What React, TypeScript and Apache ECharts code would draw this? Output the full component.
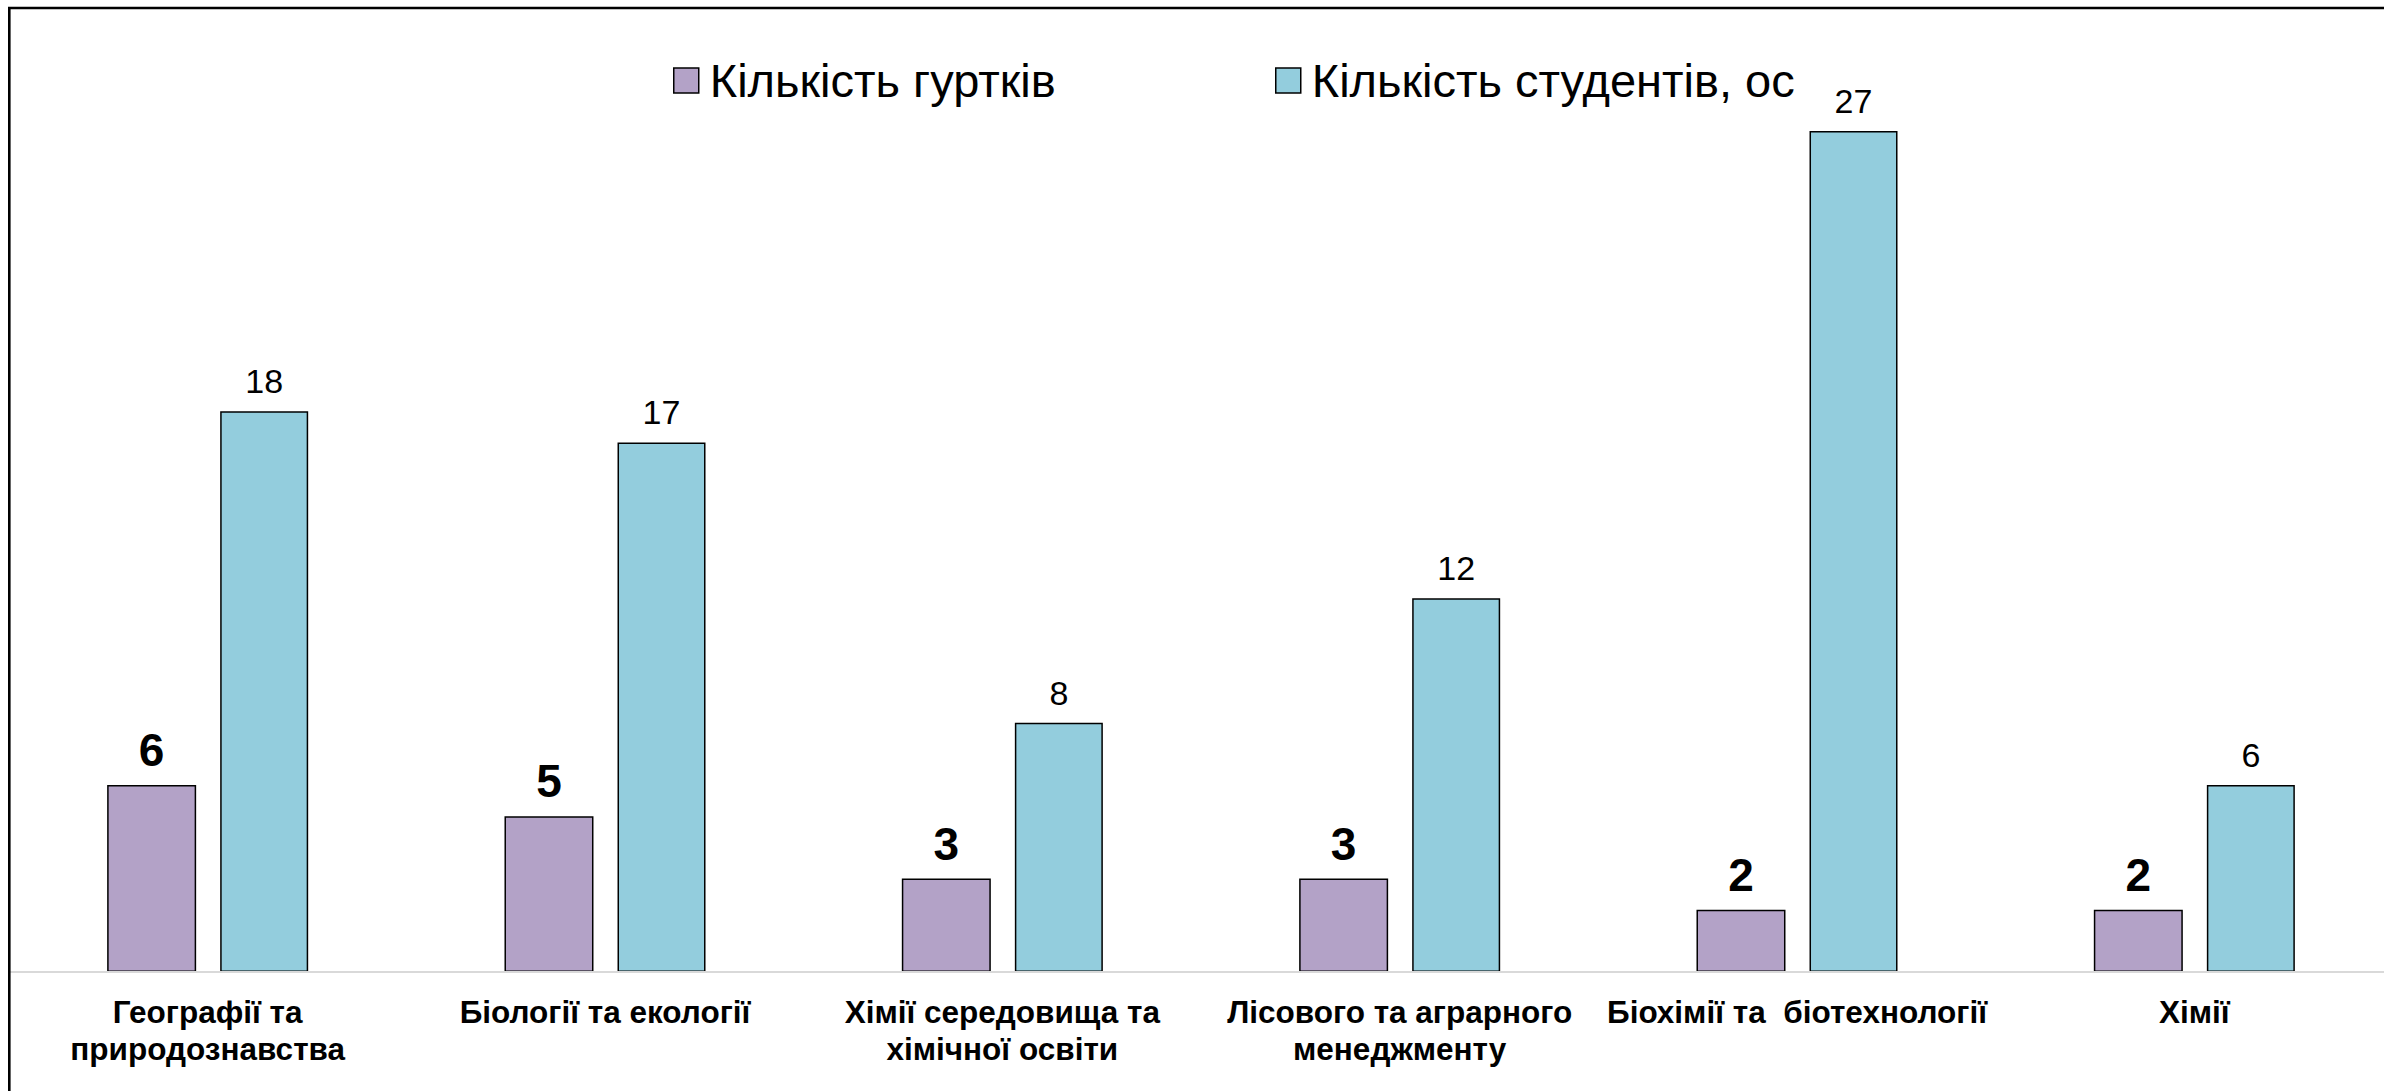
import React, { useEffect, useRef } from "react";
import * as echarts from "echarts";

const categories = [
  "Географії та\nприродознавства",
  "Біології та екології",
  "Хімії середовища та\nхімічної освіти",
  "Лісового та аграрного\nменеджменту",
  "Біохімії та  біотехнології",
  "Хімії",
];
const seriesNames = ["Кількість гуртків", "Кількість студентів, ос"];
const clubs = [6, 5, 3, 3, 2, 2];
const students = [18, 17, 8, 12, 27, 6];

const FONT = "'Liberation Sans', Arial, sans-serif";

export default function App() {
  const ref = useRef<HTMLDivElement>(null);
  useEffect(() => {
    if (!ref.current) return;
    const chart = echarts.init(ref.current, undefined, { renderer: "svg" });
    const legendText = { fontSize: 47, color: "#000", fontFamily: FONT, padding: [0, 0, 0, 6] };
    chart.setOption({
      animation: false,
      backgroundColor: "#ffffff",
      textStyle: { fontFamily: FONT },
      legend: [
        {
          data: [seriesNames[0]],
          left: 668,
          top: 52,
          itemWidth: 25,
          itemHeight: 25,
          icon: "rect",
          itemStyle: { borderColor: "#000", borderWidth: 1.5 },
          textStyle: legendText,
        },
        {
          data: [seriesNames[1]],
          left: 1270,
          top: 52,
          itemWidth: 25,
          itemHeight: 25,
          icon: "rect",
          itemStyle: { borderColor: "#000", borderWidth: 1.5 },
          textStyle: legendText,
        },
      ],
      graphic: [
        {
          type: "rect",
          shape: { x: 9.3, y: 8, width: 2420, height: 1120 },
          style: { fill: "none", stroke: "#000", lineWidth: 2.6 },
          z: 100,
        },
      ],
      grid: {
        left: 9,
        top: 37.5,
        width: 2384,
        height: 934.5,
        containLabel: false,
        outerBoundsMode: "none",
      },
      xAxis: {
        type: "category",
        data: categories,
        z: 5,
        axisLine: { lineStyle: { color: "#D9D9D9", width: 2 } },
        axisTick: { show: false },
        axisLabel: {
          interval: 0,
          margin: 21,
          fontSize: 31.5,
          fontWeight: "bold",
          color: "#000",
          lineHeight: 37,
          fontFamily: FONT,
        },
      },
      yAxis: {
        type: "value",
        min: 0,
        max: 30,
        show: false,
        splitLine: { show: false },
      },
      series: [
        {
          name: seriesNames[0],
          type: "bar",
          data: clubs,
          barWidth: 89,
          barGap: "27%",
          itemStyle: { color: "#B3A2C7", borderColor: "#000", borderWidth: 1.5 },
          label: {
            show: true,
            position: "top",
            distance: 12,
            fontSize: 46,
            fontWeight: "bold",
            color: "#000",
            fontFamily: FONT,
          },
        },
        {
          name: seriesNames[1],
          type: "bar",
          data: students,
          barWidth: 88,
          itemStyle: { color: "#93CDDD", borderColor: "#000", borderWidth: 1.5 },
          label: {
            show: true,
            position: "top",
            distance: 13,
            fontSize: 34,
            color: "#000",
            fontFamily: FONT,
          },
        },
      ],
    });
    return () => chart.dispose();
  }, []);
  return (
    <div
      ref={ref}
      style={{ position: "absolute", left: 0, top: 0, width: 2384, height: 1091 }}
    />
  );
}
